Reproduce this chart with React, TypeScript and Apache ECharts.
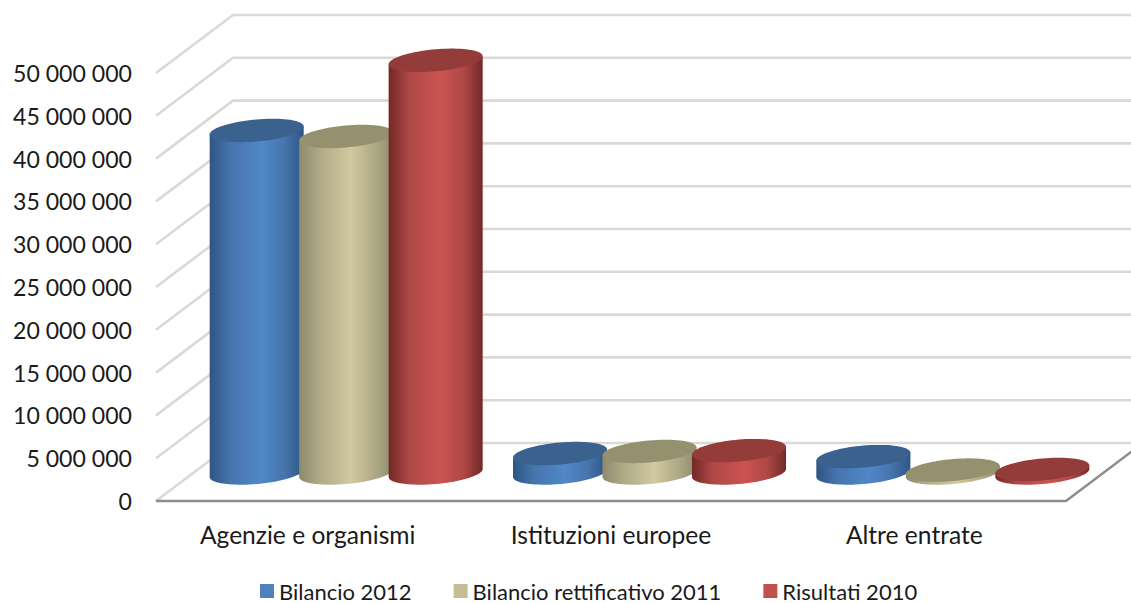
import React, { useEffect, useRef } from "react";
import * as echarts from "echarts";

const categories = ["Agenzie e organismi", "Istituzioni europee", "Altre entrate"];
const bilancio2012 = [39900000, 2160000, 1800000];
const rettificativo2011 = [39200000, 2400000, 230000];
const risultati2010 = [48100000, 2500000, 300000];
const wallTicks = [0, 5000000, 10000000, 15000000, 20000000, 25000000, 30000000, 35000000, 40000000, 45000000, 50000000];
const legendNames = ["Bilancio 2012", "Bilancio rettificativo 2011", "Risultati 2010"];

const DEPTH_X = 77;
const DEPTH_Y = 58;
const FONT = "Lato, sans-serif";

const palettes = [
  { swatch: "#4f81bd", top: "#3b618f", edge: "#2e5584", mid1: "#4674ad", mid: "#5088c8" },
  { swatch: "#c4bd97", top: "#95916f", edge: "#8d8a6c", mid1: "#b0aa85", mid: "#d0c9a1" },
  { swatch: "#c0504d", top: "#943c3a", edge: "#722927", mid1: "#ae4846", mid: "#cb5452" },
];

function fmt(v: number) {
  return String(v).replace(/\B(?=(\d{3})+(?!\d))/g, " ");
}

function cylinder(seriesIndex: number) {
  const p = palettes[seriesIndex];
  return (params: any, api: any) => {
    const cat = api.value(0);
    const val = api.value(1);
    const band = api.size([1, 0])[0];
    const cx = api.coord([cat, 0])[0] + DEPTH_X / 2 + (seriesIndex - 1) * band * 0.295;
    const baseY = api.coord([cat, 0])[1] - DEPTH_Y / 2 + 1;
    const topY = api.coord([cat, val])[1] - DEPTH_Y / 2;
    const a = band * 0.155;
    const b = 11;
    const k = 4;
    const pt = (t: number, cy: number) => [cx + a * Math.cos(t), cy + b * Math.sin(t) - k * Math.cos(t)];
    const body: number[][] = [];
    body.push(pt(Math.PI, topY));
    for (let i = 0; i <= 40; i++) body.push(pt(Math.PI - (Math.PI * i) / 40, baseY));
    body.push(pt(0, topY));
    const top: number[][] = [];
    for (let i = 0; i < 80; i++) top.push(pt((2 * Math.PI * i) / 80, topY));
    return {
      type: "group",
      children: [
        {
          type: "polygon",
          shape: { points: body },
          style: {
            fill: new echarts.graphic.LinearGradient(0, 0, 1, 0, [
              { offset: 0, color: p.edge },
              { offset: 0.22, color: p.mid1 },
              { offset: 0.55, color: p.mid },
              { offset: 0.8, color: p.mid1 },
              { offset: 1, color: p.edge },
            ]),
          },
        },
        { type: "polygon", shape: { points: top }, style: { fill: p.top } },
      ],
    };
  };
}

function wallItem(params: any, api: any) {
  const v = api.value(0);
  const [x0, y] = api.coord([0, v]);
  const band = api.size([1, 0])[0];
  const left = x0 - band / 2;
  const pts = [
    [left, y],
    [left + DEPTH_X, y - DEPTH_Y],
    [left + band * 3 + DEPTH_X, y - DEPTH_Y],
  ];
  return { type: "polyline", shape: { points: pts }, style: { fill: "none", stroke: "#d9d9d9", lineWidth: 2.6 } };
}

function floorItem(params: any, api: any) {
  const [x0, y] = api.coord([0, 0]);
  const band = api.size([1, 0])[0];
  const left = x0 - band / 2;
  const right = left + band * 3;
  return {
    type: "polyline",
    shape: { points: [[left, y], [right, y], [right + DEPTH_X, y - DEPTH_Y]] },
    style: { fill: "none", stroke: "#8c8c8c", lineWidth: 2.4 },
  };
}

export default function App() {
  const ref = useRef<HTMLDivElement>(null);
  useEffect(() => {
    const chart = echarts.init(ref.current!, undefined, { renderer: "svg" });
    const seriesValues = [bilancio2012, rettificativo2011, risultati2010];
    chart.setOption({
      animation: false,
      backgroundColor: "#ffffff",
      grid: { left: 156, right: 65, top: 73, bottom: 102 },
      legend: {
        data: legendNames,
        top: 580,
        left: 260,
        padding: 0,
        itemWidth: 14,
        itemHeight: 14,
        itemGap: 42,
        icon: "rect",
        textStyle: { fontFamily: FONT, fontSize: 22, color: "#1a1a1a" },
      },
      xAxis: {
        type: "category",
        data: categories,
        axisLine: { show: false },
        axisTick: { show: false },
        axisLabel: { fontFamily: FONT, fontSize: 24.6, color: "#1a1a1a", margin: 21 },
      },
      yAxis: {
        type: "value",
        min: 0,
        max: 50000000,
        interval: 5000000,
        axisLine: { show: false },
        axisTick: { show: false },
        splitLine: { show: false },
        axisLabel: {
          fontFamily: FONT,
          fontSize: 23.1,
          color: "#1a1a1a",
          margin: 24,
          padding: [2, 0, 0, 0],
          formatter: (v: number) => fmt(v),
        },
      },
      series: [
        {
          type: "custom",
          silent: true,
          clip: false,
          z: 1,
          renderItem: wallItem,
          data: wallTicks.map((v) => [v]),
          encode: { y: 0 },
        },
        {
          type: "custom",
          silent: true,
          clip: false,
          z: 1,
          renderItem: floorItem,
          data: [[0]],
          encode: { y: 0 },
        },
        ...legendNames.map((name, i) => ({
          type: "custom",
          name,
          clip: false,
          z: 2 + i,
          itemStyle: { color: palettes[i].swatch },
          renderItem: cylinder(i),
          data: categories.map((_, c) => [c, seriesValues[i][c]]),
          encode: { x: 0, y: 1 },
        })),
      ],
    });
    return () => chart.dispose();
  }, []);
  return <div ref={ref} style={{ position: "fixed", left: 0, top: 0, width: 1131, height: 603 }} />;
}
